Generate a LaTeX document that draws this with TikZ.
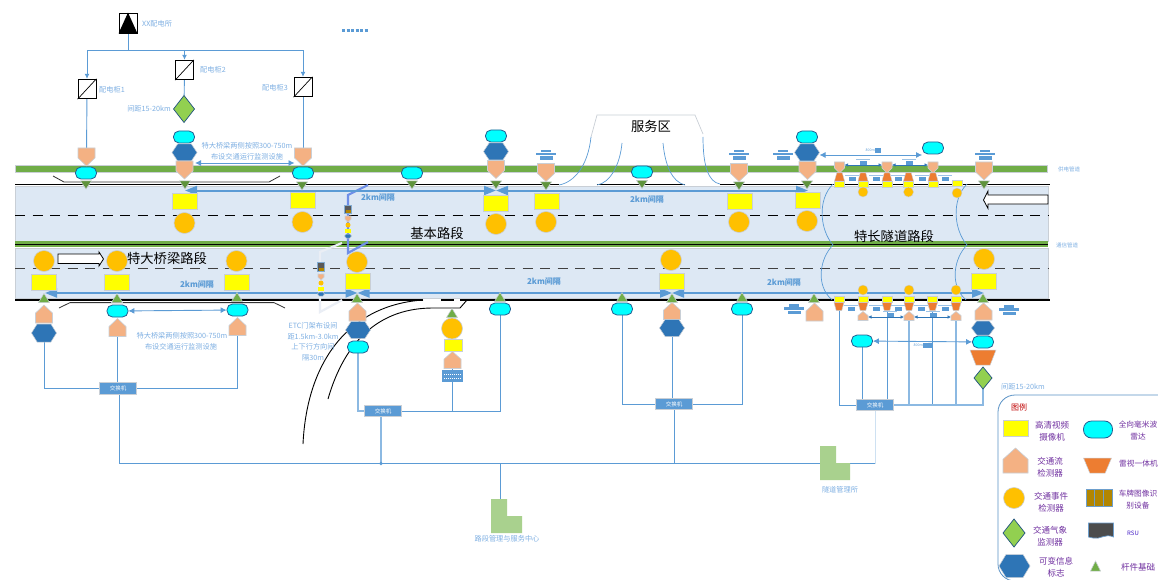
\documentclass[tikz,border=0pt]{standalone}
\usepackage{fontspec}
\setmainfont{Noto Sans CJK SC}
\usetikzlibrary{arrows.meta,calc}
\definecolor{cblue}{HTML}{5B9BD5}
\definecolor{lblue}{HTML}{7FB0E3}
\definecolor{road}{HTML}{DDE8F4}
\definecolor{gband}{HTML}{70AD47}
\definecolor{purp}{HTML}{7030A0}
\definecolor{cflow}{HTML}{F4B183}
\definecolor{cevt}{HTML}{FFC000}
\definecolor{chex}{HTML}{2E75B6}
\definecolor{cdia}{HTML}{92D050}
\definecolor{corg}{HTML}{ED7D31}
\definecolor{cbld}{HTML}{A9D18E}
\definecolor{gant}{HTML}{6F8FE8}
\definecolor{shad}{HTML}{C9CFD6}
\definecolor{cradar}{HTML}{00FFFF}
\definecolor{cyel}{HTML}{FFFF00}
\definecolor{gwhite}{HTML}{EAEEF5}
\pgfdeclarelayer{back}
\pgfdeclarelayer{conn}
\pgfsetlayers{back,conn,main}
\tikzset{
  x=1pt,y=-1pt,
  conn/.style={draw=cblue,line width=.9pt},
  connl/.style={draw=cblue!70,line width=1.2pt},
  connA/.style={conn,-{Latex[length=5pt,width=5pt]}},
  dbl/.style={draw=cblue,line width=.9pt,{Latex[length=6pt,width=6pt]}-{Latex[length=6pt,width=6pt]}},
  dbls/.style={draw=chex,line width=.6pt,{Latex[length=3.5pt,width=3.5pt]}-{Latex[length=3.5pt,width=3.5pt]}},
  km/.style={draw=cblue,line width=2pt,{Triangle[length=12pt,width=9pt]}-{Triangle[length=12pt,width=9pt]}},
  cam/.style={draw=shad,line width=.8pt,fill=cyel,minimum width=25pt,minimum height=16pt,inner sep=0pt},
  camS/.style={draw=shad,line width=.5pt,fill=cyel,minimum width=10pt,minimum height=6pt,inner sep=0pt},
  evt/.style={circle,draw=shad,line width=.6pt,fill=cevt,minimum size=21pt,inner sep=0pt},
  evtS/.style={circle,draw=shad,line width=.4pt,fill=cevt,minimum size=10pt,inner sep=0pt},
  radar/.style={rounded corners=5.5pt,draw=chex!80!black,line width=.8pt,fill=cradar,minimum width=21pt,minimum height=12pt,inner sep=0pt},
  hit/.style={inner sep=0pt,outer sep=0pt},
  hexs/.style={fill=chex,draw=shad,line width=.5pt,insert path={(-1,0)--(-.55,-1)--(.55,-1)--(1,0)--(.55,1)--(-.55,1)--cycle}},
  fdn/.style={fill=cflow,draw=shad,line width=.6pt,insert path={(-1,-1)--(1,-1)--(1,.1)--(0,1)--(-1,.1)--cycle}},
  fup/.style={fill=cflow,draw=shad,line width=.6pt,insert path={(0,-1)--(1,-.1)--(1,1)--(-1,1)--(-1,-.1)--cycle}},
  tup/.style={fill=gband,draw=shad,line width=.5pt,insert path={(0,-1)--(1,1)--(-1,1)--cycle}},
  tdn/.style={fill=gband!85!black,draw=shad,line width=.5pt,insert path={(-1,-1)--(1,-1)--(0,1)--cycle}},
  dia/.style={fill=cdia,draw=chex!70!black,line width=.7pt,insert path={(0,-1)--(1,0)--(0,1)--(-1,0)--cycle}},
  trd/.style={fill=corg,draw=shad,line width=.5pt,insert path={(-1,-1)--(1,-1)--(.55,1)--(-.55,1)--cycle}},
  tru/.style={fill=corg,draw=shad,line width=.4pt,insert path={(-.55,-1)--(.55,-1)--(1,1)--(-1,1)--cycle}},
  lbl/.style={text=lblue,font=\fontsize{7.2}{8}\selectfont,inner sep=0pt,align=center},
  kmt/.style={text=cblue,font=\fontsize{8}{9}\selectfont\bfseries,inner sep=0pt},
  big/.style={text=black,font=\fontsize{13.3}{15}\selectfont,inner sep=0pt},
  leg/.style={text=purp,font=\fontsize{8.5}{10}\selectfont,inner sep=0pt,align=center},
  legr/.style={text=purp,font=\fontsize{7.7}{10}\selectfont,inner sep=0pt,align=center},
  sw/.style={fill=cblue,draw=shad,line width=.8pt,text=white,font=\fontsize{5.5}{6}\selectfont,minimum width=37pt,minimum height=11.5pt,inner sep=0pt},
  cab/.style={draw=black,line width=.9pt,fill=white,minimum width=18pt,minimum height=19.5pt,inner sep=0pt},
  blockarrow/.style={draw=black,line width=.8pt,fill=white},
  bld/.style={fill=cbld,draw=none},
  bar/.style={fill=cblue,draw=none},
  curve/.style={draw=cblue,line width=.7pt},
}
% name, style, x, y, w, h
\newcommand\Shp[6]{%
  \path[shift={(#3,#4)},xscale=#5/2,yscale=#6/2,#2];
  \node[hit,minimum width=#5pt,minimum height=#6pt] (#1) at (#3,#4) {};}
\newcommand\Bars[2]{%
  \fill[bar] (#1-5,#2-5) rectangle (#1+5,#2-2.5);
  \fill[bar] (#1-10,#2-2) rectangle (#1+10,#2+.5);
  \fill[bar] (#1-6,#2+1.5) rectangle (#1+7,#2+5);}
\newcommand\Tag[2]{%
  \fill[bar] (#1-3.5,#2-1) rectangle (#1+3.5,#2+3);
  \draw[cblue!60,line width=.4pt] (#1-7,#2-3) -- (#1+7,#2-3);}
\begin{document}
\begin{tikzpicture}
\useasboundingbox (0,0) rectangle (1158,580);
\begin{pgfonlayer}{back}
  \fill[white] (0,0) rectangle (1158,580);
  % roads
  \fill[road,draw=shad,line width=.7pt] (15,186) rectangle (1048,241);
  \fill[road,draw=shad,line width=.7pt] (15,248) rectangle (1048,298);
  \fill[gband,draw=shad,line width=.5pt] (15,165.5) rectangle (1047,172);
  \fill[gband] (15,241) rectangle (1048,247);
  \draw[black,line width=1pt] (15,244.6) -- (1048,244.6);
  \draw[black,line width=1.4pt] (15,184.5) -- (559,184.5) (597,184.5) -- (685,184.5) (720,184.5) -- (1050,184.5);
  \draw[black,line width=1.6pt] (15,300) -- (423,300) (441,300) -- (454,300) (460,300) -- (1050,300);
  \draw[black,line width=.9pt,dash pattern=on 10pt off 7.5pt] (15,215.5) -- (1048,215.5);
  \draw[black!75,line width=.9pt,dash pattern=on 10pt off 7.5pt] (15,268.5) -- (1048,268.5);
  % bridge marks
  \draw[black!80,line width=.8pt] (53,176) -- (64,182) -- (269,182) -- (280,176);
  \draw[black!80,line width=.8pt] (59,308) -- (70,302.6) -- (274,302.6) -- (285,308);
  % exit ramp
  \draw[black,line width=.9pt] (303,444) .. controls (307,360) and (350,305) .. (423,300);
  \draw[black,line width=.9pt] (328,399) .. controls (345,340) and (380,308) .. (433,308) -- (460,308) -- (467,300);
  % service area
  \draw[shad,line width=.7pt] (591,137) -- (597,115) -- (695,115) -- (703,134);
  \draw[curve] (591,137) .. controls (588,165) and (575,182) .. (559,185);
  \draw[curve] (622,143) .. controls (620,165) and (610,183) .. (597,185);
  \draw[curve] (663,143) .. controls (665,165) and (672,182) .. (685,185);
  \draw[curve] (703,137) .. controls (703,165) and (708,182) .. (720,184);
  % tunnel bounds
  \draw[curve] (833,184) .. controls (817,200) and (820,230) .. (833,245) .. controls (820,258) and (815,285) .. (832,300);
  \draw[curve] (967,184) .. controls (951,200) and (954,230) .. (967,245) .. controls (954,258) and (949,285) .. (966,300);
  % gantries
  \draw[gant,line width=2.2pt] (368,185) -- (348,195) -- (348,253) -- (368,242);
  \draw[gwhite,line width=2.2pt] (342,243) -- (320,252) -- (320,312) -- (342,300);
  % block arrows
  \draw[blockarrow] (58,254) -- (99,254) -- (99,252) -- (103.5,259) -- (99,266) -- (99,263.5) -- (58,263.5) -- cycle;
  \draw[blockarrow] (1048,195) -- (988,195) -- (988,191) -- (983.5,200) -- (988,208.5) -- (988,204) -- (1048,204) -- cycle;
\end{pgfonlayer}

% ---- top power part
\node[cab,minimum height=20pt] (xx) at (128,23) {};
\fill[black] (xx.south west) -- (xx.north) -- (xx.south east) -- cycle;
\node[lbl,anchor=west] (xxt) at (142,24) {XX配电所};
\draw[cblue,line width=3pt,dash pattern=on 3pt off 1.5pt] (342,30.2) -- (368,30.2);
\node[cab] (cab1) at (87,89) {}; \draw[black,line width=.7pt] (cab1.south west) -- (cab1.north east);
\node[cab] (cab2) at (184.5,70) {}; \draw[black,line width=.7pt] (cab2.south west) -- (cab2.north east);
\node[cab] (cab3) at (303,87) {}; \draw[black,line width=.7pt] (cab3.south west) -- (cab3.north east);
\node[lbl,anchor=west] (cab1t) at (99,90) {配电柜1};
\node[lbl,anchor=west] (cab2t) at (200,70) {配电柜2};
\node[lbl,anchor=west] (cab3t) at (262,88) {配电柜3};
\coordinate (bL) at (87,50.5); \coordinate (bM) at (184.5,50.5); \coordinate (bR) at (303,50.5);
\Shp{d1}{dia}{184}{109}{21}{27}
\node[lbl,anchor=east] (d1t) at (171,109) {间距15-20km};

% bridge, upper
\Shp{fa}{fdn}{86.5}{157}{17}{18}
\node[radar] (ra) at (86,173) {};
\Shp{ta}{tdn}{86}{185}{11}{8}
\node[radar] (rb) at (184,137) {};
\Shp{hb}{hexs}{184.5}{152.5}{25}{17}
\Shp{fb}{fdn}{184.5}{170}{17}{18}
\Shp{tb}{tdn}{185}{185}{11}{8}
\node[cam] (cb) at (184.5,201) {};
\node[evt] (eb) at (184.5,223) {};
\Shp{fc}{fdn}{303}{157}{17}{18}
\node[radar] (rc) at (303,173) {};
\Shp{tc}{tdn}{302}{186}{11}{8}
\node[cam] (cc) at (302.5,200) {};
\node[evt] (ec) at (302.5,222) {};
\node[lbl] (bt1) at (247,146) {特大桥梁两侧按照300-750m};
\node[lbl] (bt2) at (247,157) {布设交通运行监测设施};

% basic, upper
\node[radar] (rd) at (412,173) {};
\Shp{td}{tdn}{412}{185}{11}{8}
\node[radar] (re) at (496,136) {};
\Shp{he}{hexs}{496}{151.5}{25}{17}
\Shp{fe}{fdn}{496}{169.5}{17}{18}
\Shp{te}{tdn}{496}{185}{11}{8}
\node[cam] (ce) at (496,203) {};
\node[evt] (ee) at (496,224) {};
\Shp{ff}{fdn}{546}{172.5}{17}{18}
\Shp{tf}{tdn}{546}{186}{11}{8}
\node[cam] (cf) at (546.5,201) {};
\node[evt] (ef) at (546,222) {};
\Bars{546}{155}
\node[radar] (rg) at (642,172) {};
\Shp{tg}{tdn}{642}{184.5}{11}{8}
\Shp{fh}{fdn}{739}{172.5}{17}{18}
\Shp{th}{tdn}{739}{186}{11}{8}
\node[cam] (ch) at (739.5,201) {};
\node[evt] (eh) at (739,222) {};
\Bars{739}{155}
\Bars{783}{155}
\node[radar] (ri) at (807,137) {};
\Shp{hi}{hexs}{807}{152.5}{25}{17}
\Shp{fi}{fdn}{807.5}{170.5}{17}{18}
\Shp{ti}{tdn}{807}{185}{11}{8}
\node[cam] (ci) at (807.5,200) {};
\node[evt] (ei) at (807,221) {};

% tunnel, upper
\Shp{u1}{fdn}{839.5}{167.5}{10}{11}
\Shp{u2}{fdn}{887}{167.5}{10}{11}
\Shp{u3}{fdn}{933}{167.5}{10}{11}
\foreach \n/\x in {a/839.5,b/863,c/887,d/908.5,e/933}{
  \Shp{uo\n}{tru}{\x}{177}{10}{8}
  \node[camS] (uc\n) at (\x,184) {};
}
\node[camS] (ucf) at (957,183) {};
\node[evtS] (ue1) at (863,192) {};
\node[evtS] (ue2) at (908.5,192) {};
\node[evtS] (ue3) at (957,193) {};
\node[radar] (rj) at (933,148) {};
\Shp{fk}{fdn}{984}{171}{17}{18}
\Shp{tk}{tdn}{984}{185}{11}{8}
\Bars{985}{155}
\foreach \x in {852,876,898,922,945}{\Tag{\x}{178}}
\Tag{863}{162}\Tag{909}{162}

% lower, bridge
\node[evt] (el1) at (44,261) {};
\node[cam] (cl1) at (44,282.5) {};
\Shp{tl1}{tup}{44}{298}{11}{9}
\Shp{fl1}{fup}{44}{314}{17}{18}
\Shp{hl1}{hexs}{44}{333}{25}{18}
\node[evt] (el2) at (117,261) {};
\node[cam] (cl2) at (117,282.5) {};
\Shp{tl2}{tup}{117}{298}{11}{9}
\node[radar] (rl2) at (117.5,311) {};
\Shp{fl2}{fup}{117.5}{327.5}{17}{18}
\node[evt] (el3) at (236.5,261) {};
\node[cam] (cl3) at (236.5,282.5) {};
\Shp{tl3}{tup}{237}{297}{11}{9}
\node[radar] (rl3) at (237.5,310) {};
\Shp{fl3}{fup}{237.5}{326.5}{17}{18}
\node[sw] (s1) at (118,388.5) {交换机};
\node[lbl] (bt3) at (182,336) {特大桥梁两侧按照300-750m};
\node[lbl] (bt4) at (181,347) {布设交通运行监测设施};

% lower, gantry
\node[evt] (el4) at (357,262) {};
\node[cam] (cl4) at (357.5,281) {};
\Shp{tl4}{tup}{357}{298}{11}{9}
\Shp{fl4}{fup}{357.5}{312}{17}{18}
\Shp{hl4}{hexs}{358}{330}{25}{17}
\node[radar] (rl4) at (358,347) {};
\node[sw] (s2) at (383,411) {交换机};
\Shp{tl5}{tup}{452}{313}{11}{9}
\node[evt] (el5) at (452,328.5) {};
\node[draw=shad,line width=.7pt,fill=cyel,minimum width=18pt,minimum height=12pt,inner sep=0pt] (cl5) at (453,345) {};
\Shp{fl5}{fup}{452.5}{360}{17}{17}
\node[fill=cblue,minimum width=21pt,minimum height=12pt,inner sep=0pt] (bl5) at (452.5,376) {};
\draw[white,line width=.5pt,dash pattern=on 1pt off 1pt] (444,374) -- (461,374) (444,378) -- (461,378);
\Shp{tl6}{tup}{500}{297}{11}{9}
\node[radar] (rl6) at (500,309) {};

% ETC stacks
\node[draw=chex!60,line width=.4pt,fill=black!65,minimum width=7pt,minimum height=8pt,inner sep=0pt] (ru) at (348,209) {};
\fill[cevt!70!black] (345.5,209.5) rectangle (350.5,212.5);
\Shp{fu}{fdn}{348}{219}{6}{6}
\node[circle,fill=cevt,minimum size=5pt,inner sep=0pt] (eu) at (348,225) {};
\node[fill=cyel,minimum width=6pt,minimum height=4pt,inner sep=0pt] (cu) at (348,231) {};
\Shp{hu}{hexs}{348}{236}{7}{4}
\node[draw=chex!60,line width=.4pt,fill=black!65,minimum width=7pt,minimum height=9pt,inner sep=0pt] (rv) at (321,267) {};
\fill[cevt!70!black] (318.5,268) rectangle (323.5,271);
\Shp{fv}{fdn}{321}{277}{6}{6}
\node[circle,fill=cevt,minimum size=5pt,inner sep=0pt] (ev) at (321,283) {};
\node[fill=cyel,minimum width=6pt,minimum height=4pt,inner sep=0pt] (cv) at (321,289) {};
\Shp{hv}{hexs}{321}{294}{7}{4}
\node[lbl] (et1) at (313,326) {ETC门架布设间};
\node[lbl] (et2) at (313,337) {距1.5km-3.0km};
\node[lbl] (et3) at (313,347) {上下行方向间};
\node[lbl] (et4) at (313,358) {隔30m};

% lower, basic
\Shp{tm1}{tup}{622}{297}{11}{9}
\node[radar] (rm1) at (622,309) {};
\node[evt] (em2) at (671,260) {};
\node[cam] (cm2) at (671.5,281.5) {};
\Shp{tm2}{tup}{672}{298}{11}{9}
\Shp{fm2}{fup}{672}{311}{17}{17}
\Shp{hm2}{hexs}{672}{328}{25}{17}
\Shp{tm3}{tup}{742}{297}{11}{9}
\node[radar] (rm3) at (742,309) {};
\node[sw] (s3) at (674,404) {交换机};

% lower, tunnel
\Shp{tn0}{tup}{814}{298}{11}{9}
\Shp{fn0}{fup}{814.5}{312}{17}{18}
\Bars{794}{309}
\foreach \n/\x in {a/839,b/863,c/887,d/909,e/932.5,f/956}{
  \node[camS] (lc\n) at (\x,299.5) {};
  \Shp{lo\n}{trd}{\x}{306.5}{10}{8}
}
\node[evtS] (ln1) at (863,290) {};
\node[evtS] (ln2) at (909,290) {};
\node[evtS] (ln3) at (956,290) {};
\Shp{lf1}{fup}{863}{316}{10}{9}
\Shp{lf2}{fup}{909}{316}{10}{9}
\Shp{lf3}{fup}{956}{316}{10}{9}
\node[radar] (rn) at (862,341) {};
\node[evt] (en) at (984,259) {};
\node[cam] (cn) at (984,281) {};
\Shp{tn}{tup}{983}{298}{11}{9}
\Shp{fn}{fup}{983.5}{311.5}{17}{17}
\Shp{hn}{hexs}{983}{328}{23}{14}
\node[radar] (rn2) at (983,342) {};
\Shp{on}{trd}{983}{357.5}{26}{15}
\Shp{dn}{dia}{983}{378}{18}{22}
\node[sw] (s4) at (875,405) {交换机};
\Bars{1009}{310}
\foreach \x in {851,876,898,921,945}{\Tag{\x}{308}}
\Tag{890}{314}\Tag{933}{314}
\node[lbl,anchor=west] (dnt) at (1001,387) {间距15-20km};

% tags on the long arrows
\fill[bar] (875,148) rectangle (881,153);
\node[text=cblue,font=\fontsize{3.5}{4}\selectfont,inner sep=0pt,anchor=east] (t800a) at (875,150.5) {800m};
\fill[bar] (923,342.5) rectangle (932,347.5);
\node[text=cblue,font=\fontsize{3.5}{4}\selectfont,inner sep=0pt,anchor=east] (t800b) at (923,345) {800m};

% big labels
\node[big] (n1) at (167,258) {特大桥梁路段};
\node[big] (n2) at (437,233) {基本路段};
\node[big] (n3) at (894,236) {特长隧道路段};
\node[big] (n4) at (651,126) {服务区};
\node[kmt] (k1) at (378,197) {2km间隔};
\node[kmt] (k2) at (647,199) {2km间隔};
\node[kmt] (k3) at (197,284) {2km间隔};
\node[kmt] (k4) at (544,281) {2km间隔};
\node[kmt] (k5) at (784,282) {2km间隔};
\node[lbl,font=\fontsize{5.5}{6}\selectfont] (g1) at (1069,169.5) {供电管道};
\node[lbl,font=\fontsize{5.5}{6}\selectfont] (g2) at (1067,245) {通信管道};

% buildings
\node[hit,minimum width=31pt,minimum height=34pt] (hq) at (506.5,516) {};
\path[bld] (491,499) -- (507,499) -- (507,516) -- (522,516) -- (522,533) -- (491,533) -- cycle;
\node[lbl] (hqt) at (507,539) {路段管理与服务中心};
\node[hit,minimum width=30pt,minimum height=34pt] (tm) at (835,463) {};
\path[bld] (820,446) -- (836,446) -- (836,463) -- (850,463) -- (850,480) -- (820,480) -- cycle;
\node[lbl] (tmt) at (840,490) {隧道管理所};

% ---- connectors
\begin{pgfonlayer}{conn}
  \draw[conn] (xx) -- (xx |- bM);
  \draw[conn] (bL) -- (bR);
  \draw[connA] (bL) -- (cab1);
  \draw[connA] (bM) -- (cab2);
  \draw[connA] (bR) -- (cab3);
  \draw[conn] (cab1) -- (fa);
  \draw[conn] (cab2) -- (d1);
  \draw[conn] (cab3) -- (fc);
  % 2 km arrows
  \coordinate (kU0) at (185,190.5);
  \coordinate (kU1) at (496,190.5);
  \coordinate (kU2) at (808,190.5);
  \coordinate (kL0) at (45,293);
  \coordinate (kL1) at (357.5,293);
  \coordinate (kL2) at (672,293);
  \coordinate (kL3) at (984,293);
  \draw[km] (kU0) -- (kU1);
  \draw[km] (kU1) -- (kU2);
  \draw[km] (kL0) -- (kL1);
  \draw[km] (kL1) -- (kL2);
  \draw[km] (kL2) -- (kL3);
  % bridge, lower
  \draw[conn] (hl1) |- (s1);
  \draw[conn] (fl2) -- (fl2 |- s1.north);
  \draw[conn] (fl3) |- (s1);
  \coordinate (busW) at (119,463.5);
  \coordinate (busE) at (875,463.5);
  \draw[conn] (busW) -- (busE);
  \draw[conn] (s1.south -| busW) -- (busW);
  % gantry, lower
  \draw[connl] (rl4) |- (s2);
  \draw[conn] (fl5) -- (fl5 |- s2);
  \draw[conn] (rl6) |- (s2);
  \draw[connl] (s2.south -| 381,0) -- (381,463.5);
  \fill[cblue] (381,463.5) circle (1.8);
  % basic, lower
  \draw[conn] (rm1) |- (s3);
  \draw[conn] (hm2) -- (hm2 |- s3.north);
  \draw[conn] (rm3) |- (s3);
  \draw[conn] (s3) -- (s3 |- busW);
  % tunnel, lower
  \draw[conn] (loa) |- (s4);
  \draw[conn] (rn) -- (rn |- s4.north);
  \draw[conn] (loc) -- (loc |- s4);
  \draw[connl] (lf2) -- (lf2 |- s4);
  \draw[conn] (loe) -- (loe |- s4);
  \draw[connl] (lf3) -- (lf3 |- s4);
  \draw[connl] (dn) |- (s4);
  \draw[draw=cblue!30,line width=.8pt] (s4) -- (busE);
  \draw[conn] (hq.north -| rl6) -- (rl6 |- busW);
\end{pgfonlayer}
\draw[dbl] (hb.south east) ++(-2,2) coordinate (aa) -- (fc.west |- aa);
\draw[dbl] (rl2) -- (rl3);
\draw[dbl] (hi.east |- 0,155) -- (rj.west |- 0,155);
\draw[dbl] (rn) -- (rn2);
\draw[dbls] (u1.east |- 0,165) -- (u2.west |- 0,165);
\draw[dbls] (u2.east |- 0,165) -- (u3.west |- 0,165);
\draw[dbls] (lf1.east |- 0,317) -- (lf2.west |- 0,317);
\draw[dbls] (lf2.east |- 0,317) -- (lf3.west |- 0,317);

% ---- legend
\begin{scope}
\clip (990,390) rectangle (1158,580);
\draw[draw=chex!80,line width=.8pt,fill=white,rounded corners=17pt] (998,395) rectangle (1190,581);
\node[text=red!75!black,font=\fontsize{8}{9}\selectfont,inner sep=0pt] (lt) at (1019,407) {图例};
\node[cam] (lg1) at (1015.5,428) {};
\node[leg] (lg1t) at (1052,431) {高清视频\\[2pt]摄像机};
\node[radar,minimum width=29pt,minimum height=17pt,rounded corners=8pt] (lg2) at (1098,429.5) {};
\node[legr] (lg2t) at (1138,431) {全向毫米波\\[2pt]雷达};
\Shp{lg3}{fup}{1015.5}{460.5}{25}{25}
\node[leg] (lg3t) at (1050,467) {交通流\\[2pt]检测器};
\Shp{lg4}{trd}{1097.5}{465.5}{28}{15}
\node[legr,anchor=west] (lg4t) at (1119,464) {雷视一体机};
\node[evt] (lg5) at (1014,498) {};
\node[leg] (lg5t) at (1051,502.5) {交通事件\\[2pt]检测器};
\node[draw=chex!70,line width=.7pt,fill=cevt!70!black,minimum width=26pt,minimum height=17pt,inner sep=0pt] (lg6) at (1099,497.5) {};
\draw[chex!70,line width=.6pt] (1094.5,489) -- (1094.5,506) (1103.5,489) -- (1103.5,506);
\node[legr] (lg6t) at (1138,499.5) {车牌图像识\\[2pt]别设备};
\Shp{lg7}{dia}{1014}{533}{22}{28}
\node[leg] (lg7t) at (1050,536.5) {交通气象\\[2pt]监测器};
\node[hit,minimum width=26pt,minimum height=15pt] (lg8) at (1101,530.5) {};
\path[fill=black!70,draw=chex!70,line width=.7pt] (1088.5,523) -- (1113.5,523) -- (1113.5,537) .. controls (1105,533) and (1100,540) .. (1093,538) .. controls (1091,537.5) and (1090,537.5) .. (1088.5,537) -- cycle;
\node[leg,text=purp!60!blue,font=\fontsize{6}{7}\selectfont] (lg8t) at (1133,533) {RSU};
\Shp{lg9}{hexs}{1014.5}{566}{31}{23}
\node[leg] (lg9t) at (1056,567) {可变信息\\[2pt]标志};
\Shp{lg10}{tup}{1095.5}{566}{10}{10}
\node[leg] (lg10t) at (1138,567) {杆件基础};
\end{scope}
\end{tikzpicture}
\end{document}
